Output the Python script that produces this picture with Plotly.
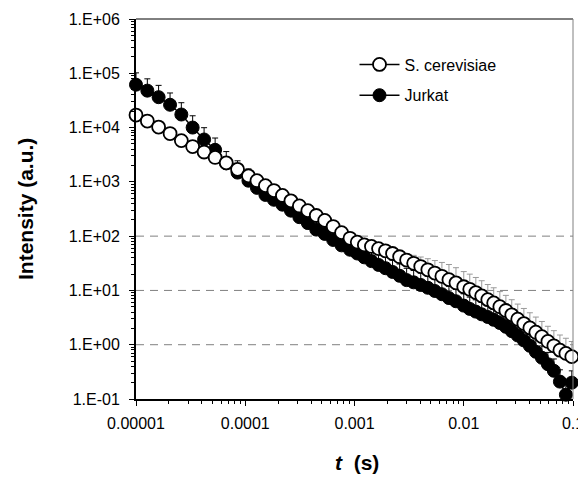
import plotly.graph_objects as go

# ---- data ----
t_s = [1.0e-5, 1.27e-5, 1.61e-5, 2.05e-5, 2.6e-5, 3.3e-5, 4.2e-5, 5.3e-5, 6.7e-5, 8.5e-5,
       1.07e-4, 1.28e-4, 1.53e-4, 1.83e-4, 2.19e-4, 2.62e-4, 3.13e-4, 3.74e-4, 4.47e-4, 5.34e-4, 6.38e-4, 7.62e-4, 9.1e-4,
       1.06e-3, 1.23e-3, 1.43e-3, 1.66e-3, 1.92e-3, 2.23e-3, 2.59e-3, 3.0e-3, 3.48e-3, 4.04e-3, 4.69e-3, 5.44e-3, 6.31e-3, 7.32e-3, 8.49e-3,
       1.0e-2, 1.135e-2, 1.29e-2, 1.46e-2, 1.66e-2, 1.88e-2, 2.14e-2, 2.43e-2, 2.75e-2, 3.12e-2, 3.55e-2, 4.03e-2, 4.57e-2, 5.19e-2, 5.89e-2, 6.68e-2, 7.59e-2, 8.61e-2,
       9.75e-2]

s_cerevisiae = [17000, 13200, 10200, 7760, 5750, 4470, 3550, 2820, 2240, 1700,
                1290, 1050, 851, 692, 562, 447, 360, 295, 240, 195, 150, 116, 91.2,
                77.6, 69.0, 64.6, 58.9, 53.7, 47.9, 41.7, 36.3, 31.6, 27.5, 24.0, 20.9, 18.2, 15.8, 13.8,
                11.7, 10.5, 9.12, 7.94, 6.76, 5.89, 5.01, 4.27, 3.55, 2.95, 2.45, 2.04, 1.70, 1.41, 1.15, 0.955, 0.794, 0.692,
                0.603]

jurkat = [61700, 47900, 36300, 26300, 17400, 10000, 6030, 3890, 2190, 1480,
          1050, 776, 575, 468, 380, 295, 224, 174, 132, 110, 85.1, 67.6, 56.2,
          47.9, 40.7, 34.7, 29.5, 25.7, 21.9, 18.6, 15.5, 14.1, 12.6, 11.2, 9.77, 8.51, 7.24, 6.31,
          5.25, 4.57, 4.07, 3.63, 3.24, 2.88, 2.51, 2.14, 1.78, 1.48, 1.20, 0.955, 0.741, 0.575, 0.437, 0.331, 0.209, 0.120,
          0.200]

# upper error bars, percent of value
s_cerevisiae_err_pct = [10] * 30 + [30, 40, 50, 60, 70, 80] + [90] * 21
jurkat_err_pct = 65

y_tickvals = [1e-1, 1e0, 1e1, 1e2, 1e3, 1e4, 1e5, 1e6]
y_ticktext = ["1.E-01", "1.E+00", "1.E+01", "1.E+02", "1.E+03", "1.E+04", "1.E+05", "1.E+06"]
x_tickvals = [1e-5, 1e-4, 1e-3, 1e-2, 1e-1]
x_ticktext = ["0.00001", "0.0001", "0.001", "0.01", "0.1"]
grid_y = [1e0, 1e1, 1e2]

FONT = "Arial, Liberation Sans, sans-serif"

sc_err = [v * p / 100 for v, p in zip(s_cerevisiae, s_cerevisiae_err_pct)]

fig = go.Figure()

fig.add_trace(go.Scatter(
    x=t_s, y=jurkat, mode="lines+markers", name="Jurkat",
    line=dict(color="black", width=1.5), legendrank=2, legendgroup="j",
    marker=dict(symbol="circle", size=13, color="black", line=dict(color="black", width=1)),
    error_y=dict(type="percent", value=jurkat_err_pct, symmetric=False, valueminus=0,
                 color="black", thickness=1, width=3),
    cliponaxis=False,
))
fig.add_trace(go.Scatter(
    x=t_s, y=s_cerevisiae, mode="lines+markers", name="S. cerevisiae",
    line=dict(color="black", width=1.5), legendrank=1, legendgroup="s",
    marker=dict(symbol="circle", size=13, color="white", line=dict(color="black", width=1.8)),
    error_y=dict(type="data", array=sc_err, symmetric=False, arrayminus=[0] * len(sc_err),
                 color="#9a9a9a", thickness=1, width=3),
    cliponaxis=False,
))

shapes = []
for gy in grid_y:
    shapes.append(dict(type="line", xref="paper", yref="y", x0=0, x1=1, y0=gy, y1=gy,
                       line=dict(color="#808080", width=1, dash="8px,6px"), layer="below"))
shapes.append(dict(type="line", xref="paper", yref="paper", x0=0, x1=1, y0=1, y1=1,
                   line=dict(color="black", width=1)))
shapes.append(dict(type="line", xref="paper", yref="paper", x0=1, x1=1, y0=0, y1=1,
                   line=dict(color="#808080", width=1)))

fig.update_layout(
    width=578, height=469,
    margin=dict(l=128, r=13, t=11, b=78, autoexpand=False),
    paper_bgcolor="white", plot_bgcolor="white",
    font=dict(family=FONT, size=16, color="black"),
    showlegend=True,
    legend=dict(x=0.50, y=0.925, xanchor="left", yanchor="top",
                bgcolor="rgba(0,0,0,0)", font=dict(size=16, family=FONT),
                traceorder="grouped", tracegroupgap=7, itemwidth=40),
    shapes=shapes,
    annotations=[
        dict(text="<b>Intensity (a.u.)</b>", xref="paper", yref="paper", x=-0.254, y=0.5,
             textangle=-90, showarrow=False, font=dict(size=21, family=FONT),
             xanchor="center", yanchor="middle"),
        dict(text="<b><i>t</i>  (s)</b>", xref="paper", yref="paper", x=0.506, y=-0.168,
             showarrow=False, font=dict(size=21, family=FONT),
             xanchor="center", yanchor="middle"),
    ],
)

fig.update_xaxes(
    type="log", range=[-5, -1], showgrid=False, zeroline=False, automargin=False,
    showline=True, linecolor="black", linewidth=2,
    ticks="outside", ticklen=5, tickwidth=1, tickcolor="black",
    tickvals=x_tickvals, ticktext=x_ticktext, ticklabelstandoff=4,
    tickfont=dict(size=16, family=FONT),
    minor=dict(ticks="outside", ticklen=3, tickcolor="black", dtick="D1", showgrid=False),
)
fig.update_yaxes(
    type="log", range=[-1, 6], showgrid=False, zeroline=False, automargin=False,
    showline=True, linecolor="black", linewidth=2,
    ticks="outside", ticklen=5, tickwidth=1, tickcolor="black",
    tickvals=y_tickvals, ticktext=y_ticktext, ticklabelstandoff=6,
    tickfont=dict(size=16, family=FONT),
    minor=dict(ticks="outside", ticklen=3, tickcolor="black", dtick="D1", showgrid=False),
)

fig.write_html("out.html")
